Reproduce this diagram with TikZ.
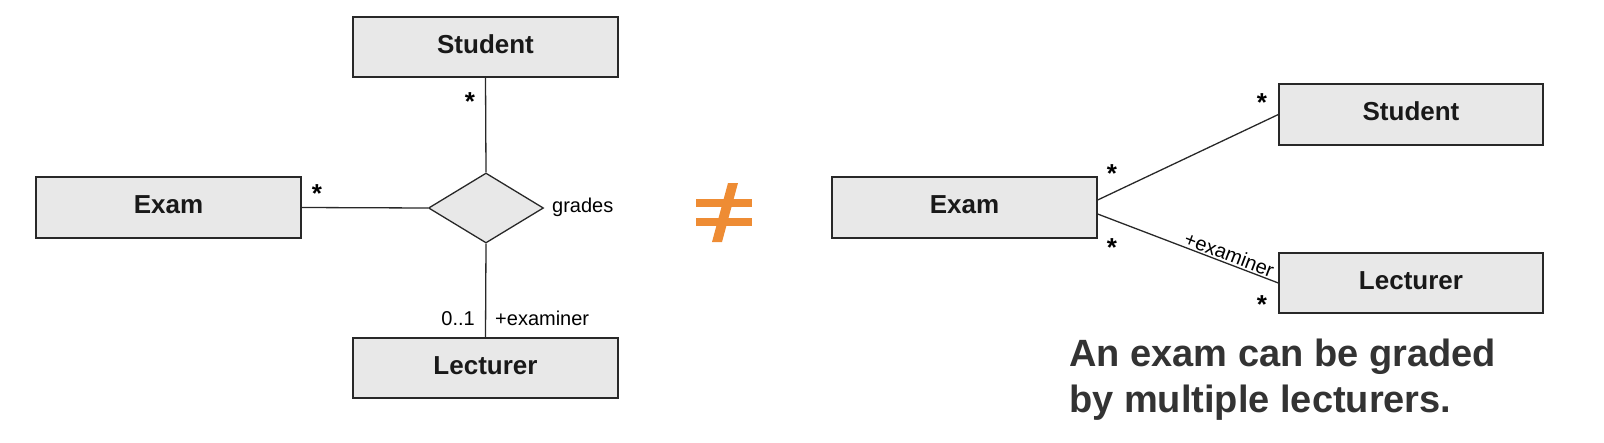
\documentclass[tikz,border=0pt]{standalone}
\usepackage{fontspec}
\setmainfont{Liberation Sans}
\usetikzlibrary{shapes.geometric}
\definecolor{boxfill}{RGB}{232,232,232}
\definecolor{linecol}{RGB}{40,40,40}
\definecolor{neqorange}{RGB}{238,140,52}
\definecolor{notecol}{RGB}{51,51,51}
\tikzset{
  cls/.style={draw=linecol, line width=1.3pt, fill=boxfill, minimum width=265pt,
    minimum height=60pt, inner sep=0pt, text height=19pt, text depth=7pt,
    font=\bfseries\fontsize{26}{30}\selectfont, text=black!90},
  conn/.style={draw=linecol, line width=1.3pt},
  mult/.style={inner sep=0pt, font=\bfseries\fontsize{26}{30}\selectfont},
  lbl/.style={inner sep=0pt, font=\fontsize{20}{24}\selectfont},
  note/.style={inner sep=0pt, font=\bfseries\fontsize{38}{46}\selectfont, text=notecol},
  neqpart/.style={fill=neqorange, draw=none}
}
\begin{document}
\begin{tikzpicture}[x=1pt,y=-1pt]
\useasboundingbox (0,0) rectangle (1604,442);
% left diagram
\node[cls] (lstudent) at (485.5,47) {Student};
\node[cls, minimum height=61pt] (lexam) at (168.5,207.5) {Exam};
\node[cls] (llecturer) at (485.5,368) {Lecturer};
\node[diamond, draw=linecol, line width=1.3pt, fill=boxfill, minimum width=115pt,
  minimum height=70pt, inner sep=0pt] (grades) at (486,208) {};
\draw[conn] (lstudent.south) -- (grades.north);
\draw[conn] (lexam.east) -- (grades.west);
\draw[conn] (grades.south) -- (llecturer.north);
\node[mult] (m1) at (470,102) {*};
\node[mult] (m2) at (317,194) {*};
\node[lbl, anchor=west] (gl) at (552,207) {grades};
\node[lbl, anchor=base east] (m3) at (475,325) {0..1};
\node[lbl, anchor=base west] (r1) at (495,325) {+examiner};
% not-equal sign
\fill[neqpart] (696,199.3) rectangle (752,206.7);
\fill[neqpart] (696,218.3) rectangle (752,226);
\fill[neqpart] (728,183) -- (738,183) -- (722,242) -- (712,242) -- cycle;
% right diagram
\node[cls, minimum height=61pt] (rexam) at (964.5,207.5) {Exam};
\node[cls, minimum width=264pt, minimum height=61pt] (rstudent) at (1411,114.5) {Student};
\node[cls, minimum width=264pt] (rlecturer) at (1411,283) {Lecturer};
\draw[conn] ([yshift=7.5pt]rexam.east) -- (rstudent.west);
\draw[conn] ([yshift=-6.5pt]rexam.east) --
  node[pos=0.71, sloped, above, inner sep=1.5pt, font=\fontsize{20}{24}\selectfont] (r2) {+examiner}
  (rlecturer.west);
\node[mult] (m4) at (1112,174) {*};
\node[mult] (m5) at (1112,248) {*};
\node[mult] (m6) at (1262,103) {*};
\node[mult] (m7) at (1262,305) {*};
\node[note, anchor=base west] (t1) at (1069,366) {An exam can be graded};
\node[note, anchor=base west] (t2) at (1069,412) {by multiple lecturers.};
\end{tikzpicture}
\end{document}
